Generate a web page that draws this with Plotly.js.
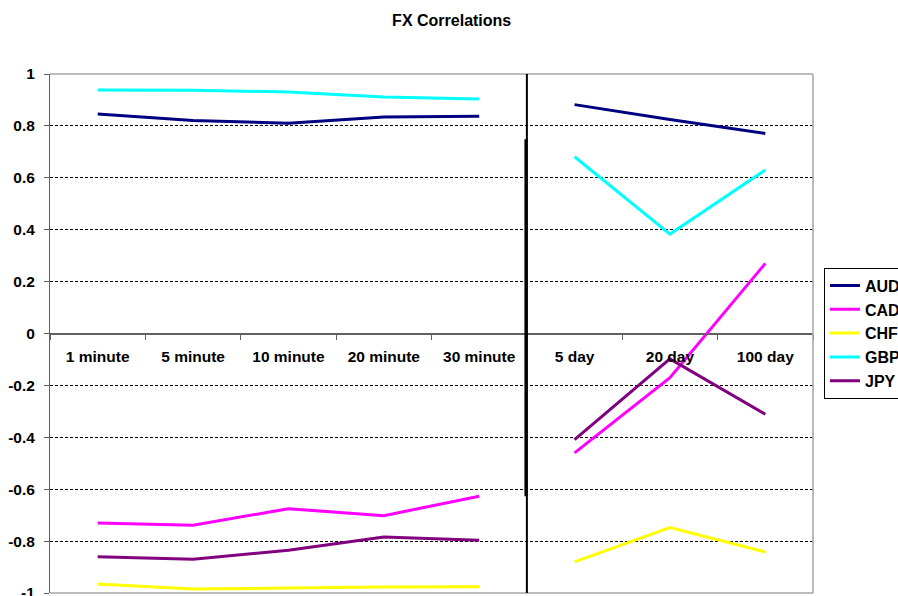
<!DOCTYPE html>
<html>
<head>
<meta charset="utf-8">
<script src="https://cdn.plot.ly/plotly-3.0.1.min.js"></script>
<style>html,body{margin:0;padding:0;background:#fff;}#chart{width:898px;height:596px;}</style>
</head>
<body>
<div id="chart"></div>
<script>
// ---- data ----
var minuteCats = ["1 minute", "5 minute", "10 minute", "20 minute", "30 minute"];
var dayCats = ["5 day", "20 day", "100 day"];

var seriesNames = ["AUD", "CAD", "CHF", "GBP", "JPY"];
var seriesColors = ["#000080", "#FF00FF", "#FFFF00", "#00FFFF", "#800080"];

var audMinute = [0.846, 0.821, 0.810, 0.834, 0.837];
var audDay = [0.882, 0.825, 0.771];
var cadMinute = [-0.730, -0.739, -0.675, -0.702, -0.627];
var cadDay = [-0.460, -0.170, 0.270];
var chfMinute = [-0.965, -0.985, -0.981, -0.977, -0.976];
var chfDay = [-0.880, -0.748, -0.842];
var gbpMinute = [0.938, 0.937, 0.931, 0.911, 0.904];
var gbpDay = [0.681, 0.383, 0.630];
var jpyMinute = [-0.860, -0.870, -0.835, -0.784, -0.797];
var jpyDay = [-0.409, -0.098, -0.311];

var yTickVals = [1, 0.8, 0.6, 0.4, 0.2, 0, -0.2, -0.4, -0.6, -0.8, -1];
var yTickText = ["1", "0.8", "0.6", "0.4", "0.2", "0", "-0.2", "-0.4", "-0.6", "-0.8", "-1"];

// ---- build ----
var minuteData = [audMinute, cadMinute, chfMinute, gbpMinute, jpyMinute];
var dayData = [audDay, cadDay, chfDay, gbpDay, jpyDay];
var allCats = minuteCats.concat(dayCats);

var font = {family: "Liberation Sans, Arial, sans-serif", size: 15.5, color: "#000", weight: "bold"};

var traces = [];
for (var i = 0; i < seriesNames.length; i++) {
  traces.push({
    type: "scatter", mode: "lines", name: seriesNames[i], legendgroup: seriesNames[i],
    x: minuteCats, y: minuteData[i],
    line: {color: seriesColors[i], width: 3}, hoverinfo: "skip"
  });
  traces.push({
    type: "scatter", mode: "lines", name: seriesNames[i], legendgroup: seriesNames[i],
    showlegend: false,
    x: dayCats, y: dayData[i],
    line: {color: seriesColors[i], width: 3}, hoverinfo: "skip"
  });
}

var layout = {
  width: 898, height: 596,
  paper_bgcolor: "#fff", plot_bgcolor: "#fff",
  margin: {l: 50, r: 85, t: 74, b: 3, autoexpand: false},
  font: font,
  title: {
    text: "FX Correlations",
    font: {family: "Liberation Sans, Arial, sans-serif", size: 16, color: "#000", weight: "bold"},
    xref: "container", yref: "container", x: 0.503, xanchor: "center", y: 0.966, yanchor: "middle"
  },
  showlegend: true,
  legend: {
    xref: "paper", yref: "paper", x: 1.0144, xanchor: "left", y: 0.627, yanchor: "top",
    bordercolor: "#000", borderwidth: 1, bgcolor: "#fff",
    font: {family: "Liberation Sans, Arial, sans-serif", size: 16, color: "#000", weight: "bold"},
    traceorder: "normal"
  },
  xaxis: {
    type: "category", categoryorder: "array", categoryarray: allCats,
    range: [-0.5, 7.5],
    anchor: "free", position: 0.5,
    showline: true, linecolor: "#606060", linewidth: 1,
    showgrid: false, zeroline: false,
    tickson: "boundaries", ticks: "outside", ticklen: 5, tickcolor: "#606060",
    ticklabelstandoff: 9,
    tickfont: font, fixedrange: true
  },
  yaxis: {
    range: [-1, 1], tickmode: "array", tickvals: yTickVals, ticktext: yTickText,
    showline: true, linecolor: "#606060", linewidth: 1,
    ticks: "outside", ticklen: 5, tickcolor: "#606060",
    ticklabelstandoff: 6, ticklabeloverflow: "allow",
    showgrid: true, gridcolor: "#000", gridwidth: 1, griddash: "3px,2px",
    zeroline: true, zerolinecolor: "#606060", zerolinewidth: 1,
    tickfont: font, fixedrange: true
  },
  shapes: [
    {type: "line", xref: "paper", yref: "paper", x0: 0, x1: 1, y0: 1, y1: 1, line: {color: "#a6a6a6", width: 1.5}},
    {type: "line", xref: "paper", yref: "paper", x0: 1, x1: 1, y0: 0, y1: 1, line: {color: "#a6a6a6", width: 1.5}},
    {type: "line", xref: "paper", yref: "paper", x0: 0, x1: 1, y0: 0, y1: 0, line: {color: "#a6a6a6", width: 1.5}},
    {type: "line", xref: "x", yref: "y", x0: 4.5, x1: 4.5, y0: -1, y1: 1, line: {color: "#000", width: 2}},
    {type: "line", xref: "x", yref: "y", x0: 4.49, x1: 4.49, y0: -0.627, y1: 0.749, line: {color: "#000", width: 3}}
  ]
};

Plotly.newPlot("chart", traces, layout, {displayModeBar: false, staticPlot: true});
</script>
</body>
</html>
